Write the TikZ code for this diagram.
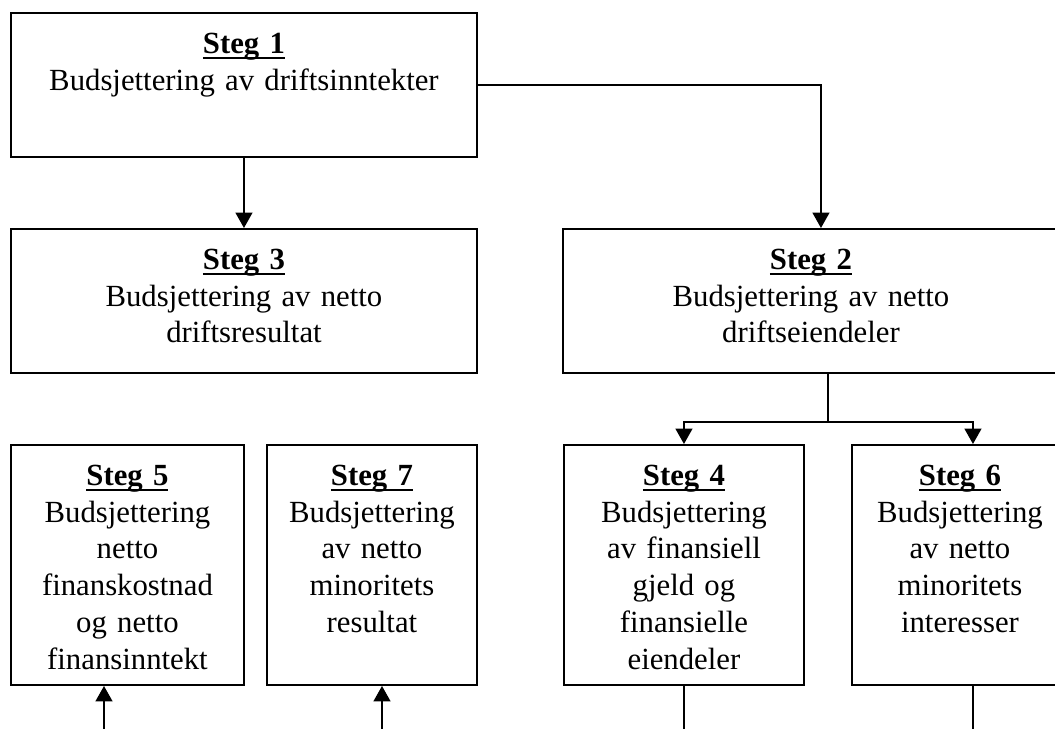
\documentclass[tikz,border=0pt]{standalone}
\usepackage{fontspec}
\setmainfont{Liberation Serif}
\usetikzlibrary{arrows.meta}
\newsavebox\stegbox
\newcommand\steg[1]{\sbox\stegbox{\textbf{Steg #1}}\rlap{\rule[-3.3pt]{\wd\stegbox}{1.4pt}}\usebox\stegbox}
\tikzset{
  stepbox/.style={draw, line width=1.1pt, anchor=north west, align=center,
    inner xsep=0pt, inner ysep=11pt, text height=12pt,
    font=\fontsize{17.5}{20.9}\selectfont},
  toprow/.style={stepbox, text depth=48pt},
  lowrow/.style={stepbox, text depth=102.6pt},
  link/.style={line width=1.1pt, -{Triangle[length=8.7pt,width=9.5pt]}},
  stublink/.style={line width=1.1pt}
}

\begin{document}
\begin{tikzpicture}
  \useasboundingbox (0,0) rectangle (21.1,-14.58);
  \node[toprow, text width=9.32cm] (s1) at (0.2,-0.24) {\steg{1}\\Budsjettering av driftsinntekter};
  \node[toprow, text width=9.32cm] (s3) at (0.2,-4.56) {\steg{3}\\Budsjettering av netto\\driftsresultat};
  \node[toprow, text width=9.92cm] (s2) at (11.24,-4.56) {\steg{2}\\Budsjettering av netto\\driftseiendeler};
  \node[lowrow, text width=4.66cm] (s5) at (0.2,-8.88) {\steg{5}\\Budsjettering\\netto\\finanskostnad\\og netto\\finansinntekt};
  \node[lowrow, text width=4.2cm] (s7) at (5.32,-8.88) {\steg{7}\\Budsjettering\\av netto\\minoritets\\resultat};
  \node[lowrow, text width=4.8cm] (s4) at (11.26,-8.88) {\steg{4}\\Budsjettering\\av finansiell\\gjeld og\\finansielle\\eiendeler};
  \node[lowrow, text width=4.32cm] (s6) at (17.02,-8.88) {\steg{6}\\Budsjettering\\av netto\\minoritets\\interesser};
  \draw[link] (s1) -- (s3);
  \draw[link] (s1.east) -| ([xshift=0.2cm]s2.north);
  \coordinate (fork) at ([xshift=0.34cm,yshift=-0.96cm]s2.south);
  \draw[link] (fork |- s2.south) -- (fork) -| (s4.north);
  \draw[link] (fork) -| ([xshift=0.26cm]s6.north);
  \coordinate (in5) at (2.08,-14.7);
  \coordinate (in7) at (7.64,-14.7);
  \draw[link] (in5) -- (in5 |- s5.south);
  \draw[link] (in7) -- (in7 |- s7.south);
  \draw[stublink] (s4.south) -- (s4.south |- in5);
  \draw[stublink] ([xshift=0.26cm]s6.south) -- ([xshift=0.26cm]s6.south |- in5);
\end{tikzpicture}
\end{document}
